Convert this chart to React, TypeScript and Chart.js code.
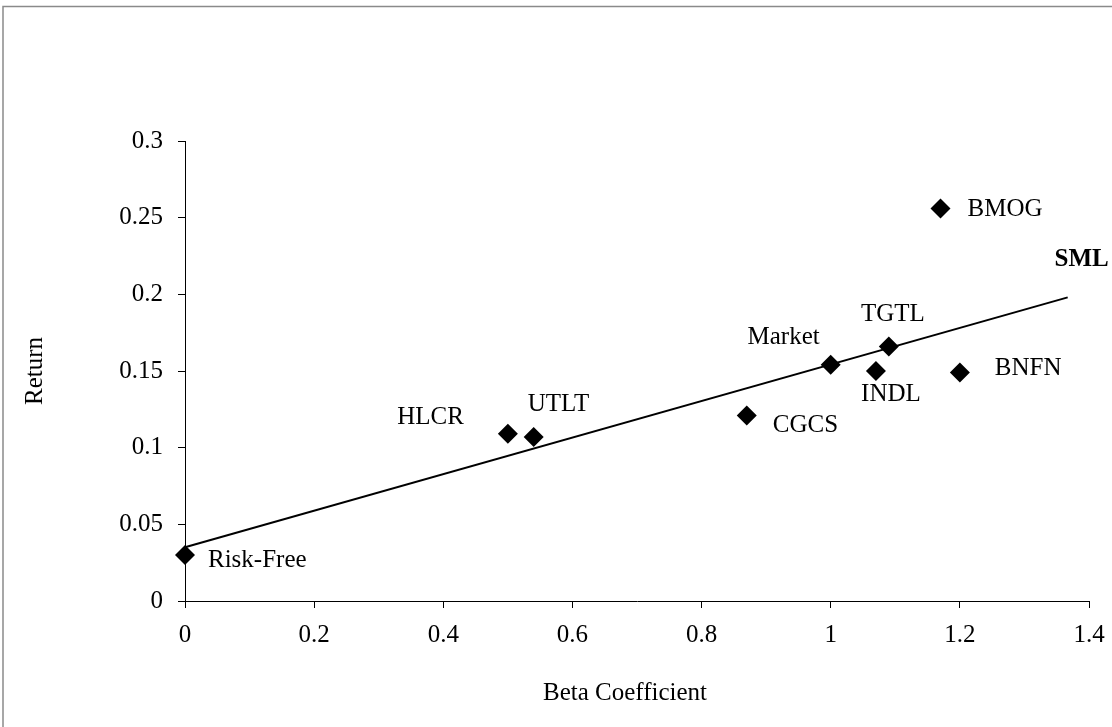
import React, { useEffect, useRef } from "react";
import { Chart, registerables } from "chart.js";

Chart.register(...registerables);

// ---- data ----
const assetNames = ["Risk-Free", "HLCR", "UTLT", "CGCS", "Market", "INDL", "TGTL", "BNFN", "BMOG"];
const assetBetas = [0, 0.5, 0.54, 0.87, 1.0, 1.07, 1.09, 1.2, 1.17];
const assetReturns = [0.03, 0.109, 0.107, 0.121, 0.154, 0.15, 0.166, 0.149, 0.256];
const smlBetas = [0, 1.367];
const smlReturns = [0.035, 0.198];
const smlName = "SML";
const xTitle = "Beta Coefficient";
const yTitle = "Return";

// ---- label layout (pixel offsets from each marker) ----
const labelLayout: { dx: number; dy: number; align: CanvasTextAlign }[] = [
  { dx: 23, dy: 5, align: "left" },
  { dx: -44, dy: -16, align: "right" },
  { dx: -6, dy: -32, align: "left" },
  { dx: 26, dy: 10, align: "left" },
  { dx: -11, dy: -27, align: "right" },
  { dx: 15, dy: 23, align: "center" },
  { dx: 4, dy: -32, align: "center" },
  { dx: 35, dy: -4, align: "left" },
  { dx: 27, dy: 1, align: "left" },
];
const smlLayout = { dx: 14, dy: -38 };
const xTitleLayout = { dx: -12, y: 693 };

const FONT = "'Liberation Serif', 'Times New Roman', serif";
const FS = 25;

const labelsPlugin = {
  id: "pointLabels",
  beforeDraw(chart: any) {
    const ctx = chart.ctx;
    ctx.save();
    ctx.strokeStyle = "#8a8a8a";
    ctx.lineWidth = 1.5;
    ctx.strokeRect(3, 6.5, 1300, 900);
    ctx.restore();
  },
  afterDatasetsDraw(chart: any) {
    const ctx = chart.ctx;
    ctx.save();
    ctx.fillStyle = "#000";
    ctx.textBaseline = "middle";
    ctx.font = `${FS}px ${FONT}`;
    const pts = chart.getDatasetMeta(1).data;
    pts.forEach((p: any, i: number) => {
      const l = labelLayout[i];
      ctx.textAlign = l.align;
      ctx.fillText(assetNames[i], p.x + l.dx, p.y + l.dy);
    });
    // x-axis title
    const ca = chart.chartArea;
    ctx.textAlign = "center";
    ctx.fillText(xTitle, (ca.left + ca.right) / 2 + xTitleLayout.dx, xTitleLayout.y);
    // SML label
    const line = chart.getDatasetMeta(0).data;
    const end = line[line.length - 1];
    ctx.font = `bold ${FS}px ${FONT}`;
    ctx.textAlign = "center";
    ctx.fillText(smlName, end.x + smlLayout.dx, end.y + smlLayout.dy);
    ctx.restore();
  },
};

export default function App() {
  const ref = useRef<HTMLCanvasElement | null>(null);
  useEffect(() => {
    if (!ref.current) return;
    const chart = new Chart(ref.current, {
      type: "scatter",
      data: {
        datasets: [
          {
            type: "line",
            label: smlName,
            data: smlBetas.map((b, i) => ({ x: b, y: smlReturns[i] })),
            borderColor: "#000",
            borderWidth: 2,
            pointRadius: 0,
            fill: false,
            tension: 0,
            clip: false,
          } as any,
          {
            label: "Assets",
            data: assetBetas.map((b, i) => ({ x: b, y: assetReturns[i] })),
            pointStyle: "rectRot",
            pointRadius: 10,
            backgroundColor: "#000",
            borderColor: "#000",
            borderWidth: 0,
            clip: false,
          } as any,
        ],
      },
      options: {
        responsive: false,
        animation: false,
        devicePixelRatio: 1,
        layout: { padding: { left: 0, top: 141, right: 23, bottom: 0 } },
        plugins: { legend: { display: false }, tooltip: { enabled: false } },
        scales: {
          x: {
            type: "linear",
            min: 0,
            max: 1.4,
            afterFit: (s: any) => {
              s.height = 126;
              s.paddingLeft = 0;
              s.paddingRight = 0;
            },
            ticks: {
              stepSize: 0.2,
              color: "#000",
              font: { family: FONT, size: FS },
              padding: 12,
              callback: (v: any) => String(Number(Number(v).toFixed(2))),
            },
            grid: { drawOnChartArea: false, drawTicks: true, tickLength: 7, color: "#000" },
            border: { display: true, color: "#000", width: 1 },
            title: { display: false },
          },
          y: {
            type: "linear",
            min: 0,
            max: 0.3,
            afterFit: (s: any) => {
              s.width = 185;
              s.paddingTop = 0;
              s.paddingBottom = 0;
            },
            ticks: {
              stepSize: 0.05,
              color: "#000",
              font: { family: FONT, size: FS },
              padding: 15,
              callback: (v: any) => String(Number(Number(v).toFixed(2))),
            },
            grid: { drawOnChartArea: false, drawTicks: true, tickLength: 7, color: "#000" },
            border: { display: true, color: "#000", width: 1 },
            title: {
              display: true,
              text: yTitle,
              color: "#000",
              font: { family: FONT, size: FS },
              padding: { top: 20, bottom: 0 },
            },
          },
        },
      },
      plugins: [labelsPlugin],
    });
    return () => chart.destroy();
  }, []);
  return (
    <div style={{ position: "fixed", left: 0, top: 0, width: 1112, height: 727, background: "#fff" }}>
      <canvas ref={ref} width={1112} height={727} style={{ width: 1112, height: 727, display: "block" }} />
    </div>
  );
}
